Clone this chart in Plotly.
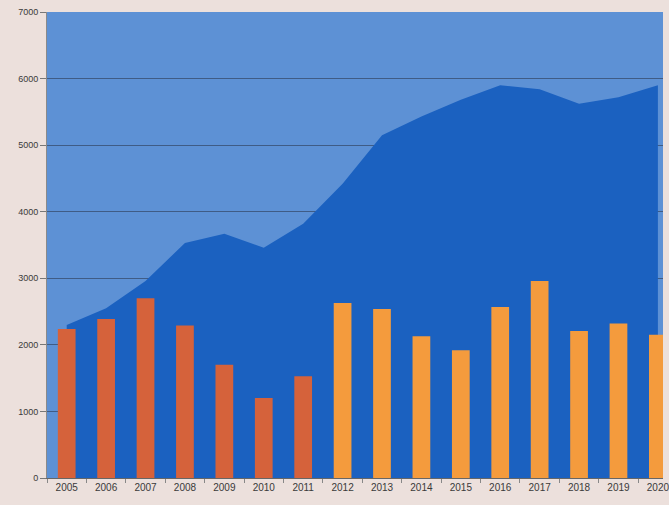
import plotly.graph_objects as go

years = [str(y) for y in range(2005, 2021)]
bar_values = [2240, 2390, 2700, 2290, 1700, 1200, 1530, 2630, 2540, 2130, 1920, 2570, 2960, 2210, 2320, 2150]
area_values = [2300, 2550, 2960, 3530, 3670, 3460, 3820, 4420, 5150, 5430, 5680, 5900, 5840, 5620, 5720, 5900]
tick_vals = [0, 1000, 2000, 3000, 4000, 5000, 6000, 7000]

early_color = "#d5623b"
late_color = "#f49b3d"
bar_colors = [early_color if int(y) <= 2011 else late_color for y in years]

fig = go.Figure()
fig.add_trace(go.Scatter(
    x=years, y=area_values, mode="lines", fill="tozeroy",
    line=dict(color="#1b61c0", width=0), fillcolor="#1b61c0",
    showlegend=False, hoverinfo="skip",
))
fig.add_trace(go.Bar(
    x=years, y=bar_values, marker=dict(color=bar_colors, line=dict(width=0)),
    width=0.45, showlegend=False, yaxis="y2",
))

font = dict(family="Liberation Sans Narrow, Liberation Sans, Arial", size=10, color="#3a3a3a")
fig.update_layout(
    width=669, height=505,
    margin=dict(l=47, r=0, t=12, b=27),
    paper_bgcolor="#ece0dc",
    plot_bgcolor="#5d91d5",
    font=font,
    xaxis=dict(
        type="category", range=[-0.5, 15.13],
        showgrid=False, showline=True, linecolor="#666666", linewidth=1,
        ticks="outside", tickson="boundaries", ticklen=4, tickcolor="#888888",
        tickfont=dict(size=10, color="#3a3a3a"),
    ),
    yaxis=dict(
        range=[0, 7000], tickvals=tick_vals,
        showgrid=True, gridcolor="#3f5c86", gridwidth=1,
        showline=True, linecolor="#8a8a8a", linewidth=1,
        ticks="outside", ticklen=6, tickcolor="#777777",
        tickfont=dict(size=9, color="#3a3a3a"),
        zeroline=False,
    ),
    yaxis2=dict(
        range=[0, 7000], overlaying="y", side="left",
        showgrid=False, showticklabels=False, showline=False,
        zeroline=False, ticks="",
    ),
)

fig.write_html("out.html")
